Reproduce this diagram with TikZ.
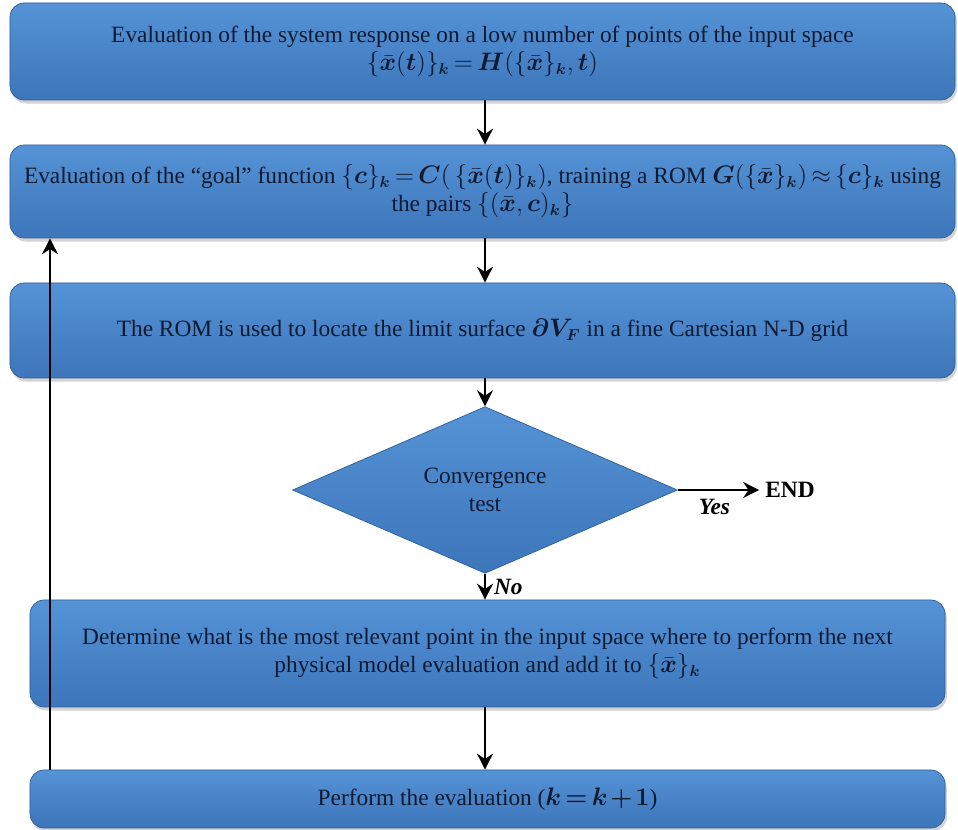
\documentclass[tikz,border=0pt]{standalone}
\usepackage{fontspec}
\setmainfont{Liberation Serif}
\usepackage{amsmath}
\usepackage{bm}
\usepackage{xcolor}
\usetikzlibrary{arrows.meta,positioning,shapes.geometric,shadows}
\definecolor{boxtop}{HTML}{5592D6}
\definecolor{boxbot}{HTML}{3D76BA}
\definecolor{boxline}{HTML}{2E5E98}
\definecolor{boxtext}{HTML}{0E1A30}
\newcommand{\tightmath}{\thickmuskip=3mu\relax\medmuskip=2mu\relax}

\begin{document}
\begin{tikzpicture}[
    box/.style={rounded corners=8pt, draw=boxline, top color=boxtop, bottom color=boxbot,
        drop shadow={opacity=0.35, shadow xshift=1pt, shadow yshift=-2pt},
        align=center, text=boxtext,
        font=\fontsize{13.3}{16}\selectfont\tightmath},
    test/.style={diamond, draw=boxline, top color=boxtop, bottom color=boxbot,
        align=center, text=boxtext, inner sep=0pt, font=\fontsize{13.3}{16}\selectfont},
    flow/.style={line width=1.6pt, -{Stealth[length=9pt,width=9pt]}}
]
\useasboundingbox (0,0) rectangle (19.16,16.6);

%% boxes
\node[box, minimum width=18.9cm, minimum height=1.94cm] (eval) at (9.65,15.57)
    {Evaluation of the system response on a low number of points of the input space\\
     $\{\bar{\bm{x}}(\bm{t})\}_{\bm{k}} = \bm{H}(\{\bar{\bm{x}}\}_{\bm{k}},\bm{t})$};

\node[box, minimum width=18.9cm, minimum height=1.86cm] (goal) at (9.65,12.77)
    {Evaluation of the ``goal'' function $\{\bm{c}\}_{\bm{k}} = \bm{C}(\,\{\bar{\bm{x}}(\bm{t})\}_{\bm{k}})$, training a ROM $\bm{G}(\{\bar{\bm{x}}\}_{\bm{k}}) \approx \{\bm{c}\}_{\bm{k}}$ using\\
     the pairs $\{(\bar{\bm{x}},\bm{c})_{\bm{k}}\}$};

\node[box, minimum width=18.9cm, minimum height=1.9cm] (rom) at (9.65,9.99)
    {The ROM is used to locate the limit surface $\bm{\partial V_F}$ in a fine Cartesian N-D grid};

% convergence test
\node[test, minimum width=7.7cm, minimum height=2.78cm] (conv) at (9.7,6.8)
    {Convergence\\test};

\node[box, minimum width=18.3cm, minimum height=2.14cm] (point) at (9.75,3.53)
    {Determine what is the most relevant point in the input space where to perform the next\\
     physical model evaluation and add it to $\{\bar{\bm{x}}\}_{\bm{k}}$};

\node[box, minimum width=18.3cm, minimum height=1.16cm] (perf) at (9.75,0.62)
    {Perform the evaluation ($\bm{k = k + 1}$)};

\node[font=\fontsize{13.3}{15}\selectfont\bfseries] (end) at (15.8,6.8) {END};
\coordinate (back) at (1.0,0 |- perf.north);

%% connectors
\draw[flow] (eval.south -| conv.north) -- (goal.north -| conv.north);
\draw[flow] (goal.south -| conv.north) -- (rom.north -| conv.north);
\draw[flow] (rom.south -| conv.north) -- (conv.north);
\draw[flow] (conv.east) -- (end.west)
    node[pos=0.45, below=1pt, font=\fontsize{13.3}{15}\selectfont\bfseries\itshape] (yes) {Yes};
\draw[flow] (conv.south) -- (point.north -| conv.south)
    node[midway, right=1pt, font=\fontsize{13.3}{15}\selectfont\bfseries\itshape] (no) {No};
\draw[flow] (point.south -| conv.north) -- (perf.north -| conv.north);
\draw[flow] (back) -- (back |- goal.south);

\end{tikzpicture}
\end{document}
